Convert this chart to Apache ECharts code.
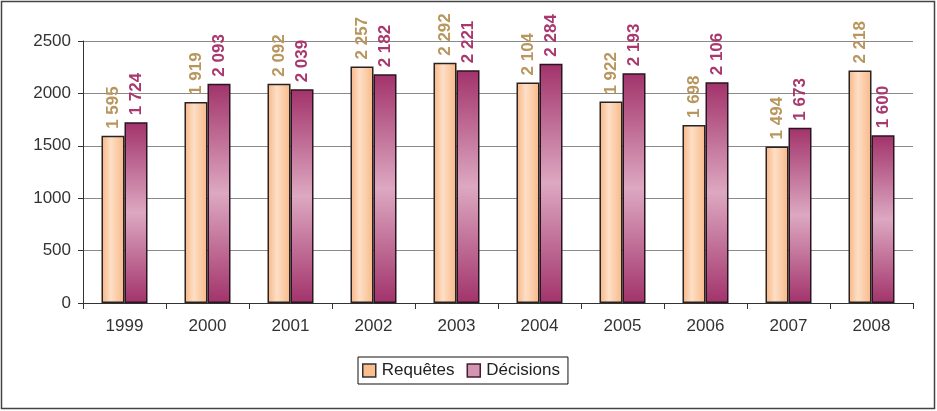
<!DOCTYPE html>
<html>
<head>
<meta charset="utf-8">
<script src="https://cdn.jsdelivr.net/npm/echarts@6/dist/echarts.min.js"></script>
<style>
html, body { margin: 0; padding: 0; background: #fff; }
#main { width: 937px; height: 411px; }
</style>
</head>
<body>
<div id="main"></div>
<script>
var years = ['1999', '2000', '2001', '2002', '2003', '2004', '2005', '2006', '2007', '2008'];
var requetes = [1595, 1919, 2092, 2257, 2292, 2104, 1922, 1698, 1494, 2218];
var decisions = [1724, 2093, 2039, 2182, 2221, 2284, 2193, 2106, 1673, 1600];

function fmt(v) {
    var s = String(v);
    return s.length > 3 ? s.slice(0, s.length - 3) + ' ' + s.slice(-3) : s;
}

var font = 'Liberation Sans, Arial, sans-serif';
var myChart = echarts.init(document.getElementById('main'));

var labelBase = {
    show: true,
    position: 'top',
    rotate: 90,
    align: 'left',
    verticalAlign: 'middle',
    distance: 7,
    fontFamily: font,
    fontSize: 17,
    fontWeight: 'bold',
    formatter: function (p) { return fmt(p.value); }
};

var option = {
    backgroundColor: '#fff',
    animation: false,
    graphic: [{
        type: 'rect',
        shape: { x: 1.5, y: 1.5, width: 933, height: 407 },
        style: { fill: 'none', stroke: '#444', lineWidth: 1.5 }
    }],
    grid: { left: 83, right: 24, top: 41, bottom: 108 },
    legend: {
        bottom: 27,
        left: 358,
        icon: 'rect',
        itemWidth: 13,
        itemHeight: 13,
        itemGap: 12,
        padding: [5, 8, 5, 4],
        borderColor: '#111',
        borderWidth: 1,
        textStyle: { fontFamily: font, fontSize: 17, color: '#222', padding: [0, 0, 0, 1] },
        data: [
            { name: 'Requêtes', itemStyle: { color: '#F9BE8E', borderColor: '#333', borderWidth: 1.5 } },
            { name: 'Décisions', itemStyle: { color: '#D096B2', borderColor: '#4a1a30', borderWidth: 1.5 } }
        ]
    },
    xAxis: {
        type: 'category',
        data: years,
        axisLine: { lineStyle: { color: '#333', width: 1 } },
        axisTick: { show: true, length: 6, lineStyle: { color: '#333' } },
        axisLabel: { color: '#333', fontSize: 17, margin: 15, fontFamily: font }
    },
    yAxis: {
        type: 'value',
        min: 0,
        max: 2500,
        interval: 500,
        axisLine: { show: true, lineStyle: { color: '#333', width: 1 } },
        axisTick: { show: true, length: 5, lineStyle: { color: '#333' } },
        axisLabel: { color: '#333', fontSize: 17, margin: 12, fontFamily: font, formatter: function (v) { return String(v); } },
        splitLine: { lineStyle: { color: '#8a8a8a', width: 1 } }
    },
    series: [
        {
            name: 'Requêtes',
            type: 'bar',
            data: requetes,
            barWidth: 23,
            barGap: '0%',
            itemStyle: {
                color: new echarts.graphic.LinearGradient(0, 0, 1, 0, [
                    { offset: 0, color: '#F7B482' },
                    { offset: 0.4, color: '#FDDFC6' },
                    { offset: 1, color: '#F8B887' }
                ]),
                borderColor: '#2b2222',
                borderWidth: 1.5
            },
            label: Object.assign({}, labelBase, { color: '#B8965E' })
        },
        {
            name: 'Décisions',
            type: 'bar',
            data: decisions,
            barWidth: 23,
            itemStyle: {
                color: new echarts.graphic.LinearGradient(0, 0, 0, 1, [
                    { offset: 0, color: '#A2336B' },
                    { offset: 0.5, color: '#DDA8C1' },
                    { offset: 1, color: '#A2336B' }
                ]),
                borderColor: '#2a1620',
                borderWidth: 1.5
            },
            label: Object.assign({}, labelBase, { color: '#A8386E' })
        }
    ]
};
myChart.setOption(option);
</script>
</body>
</html>
